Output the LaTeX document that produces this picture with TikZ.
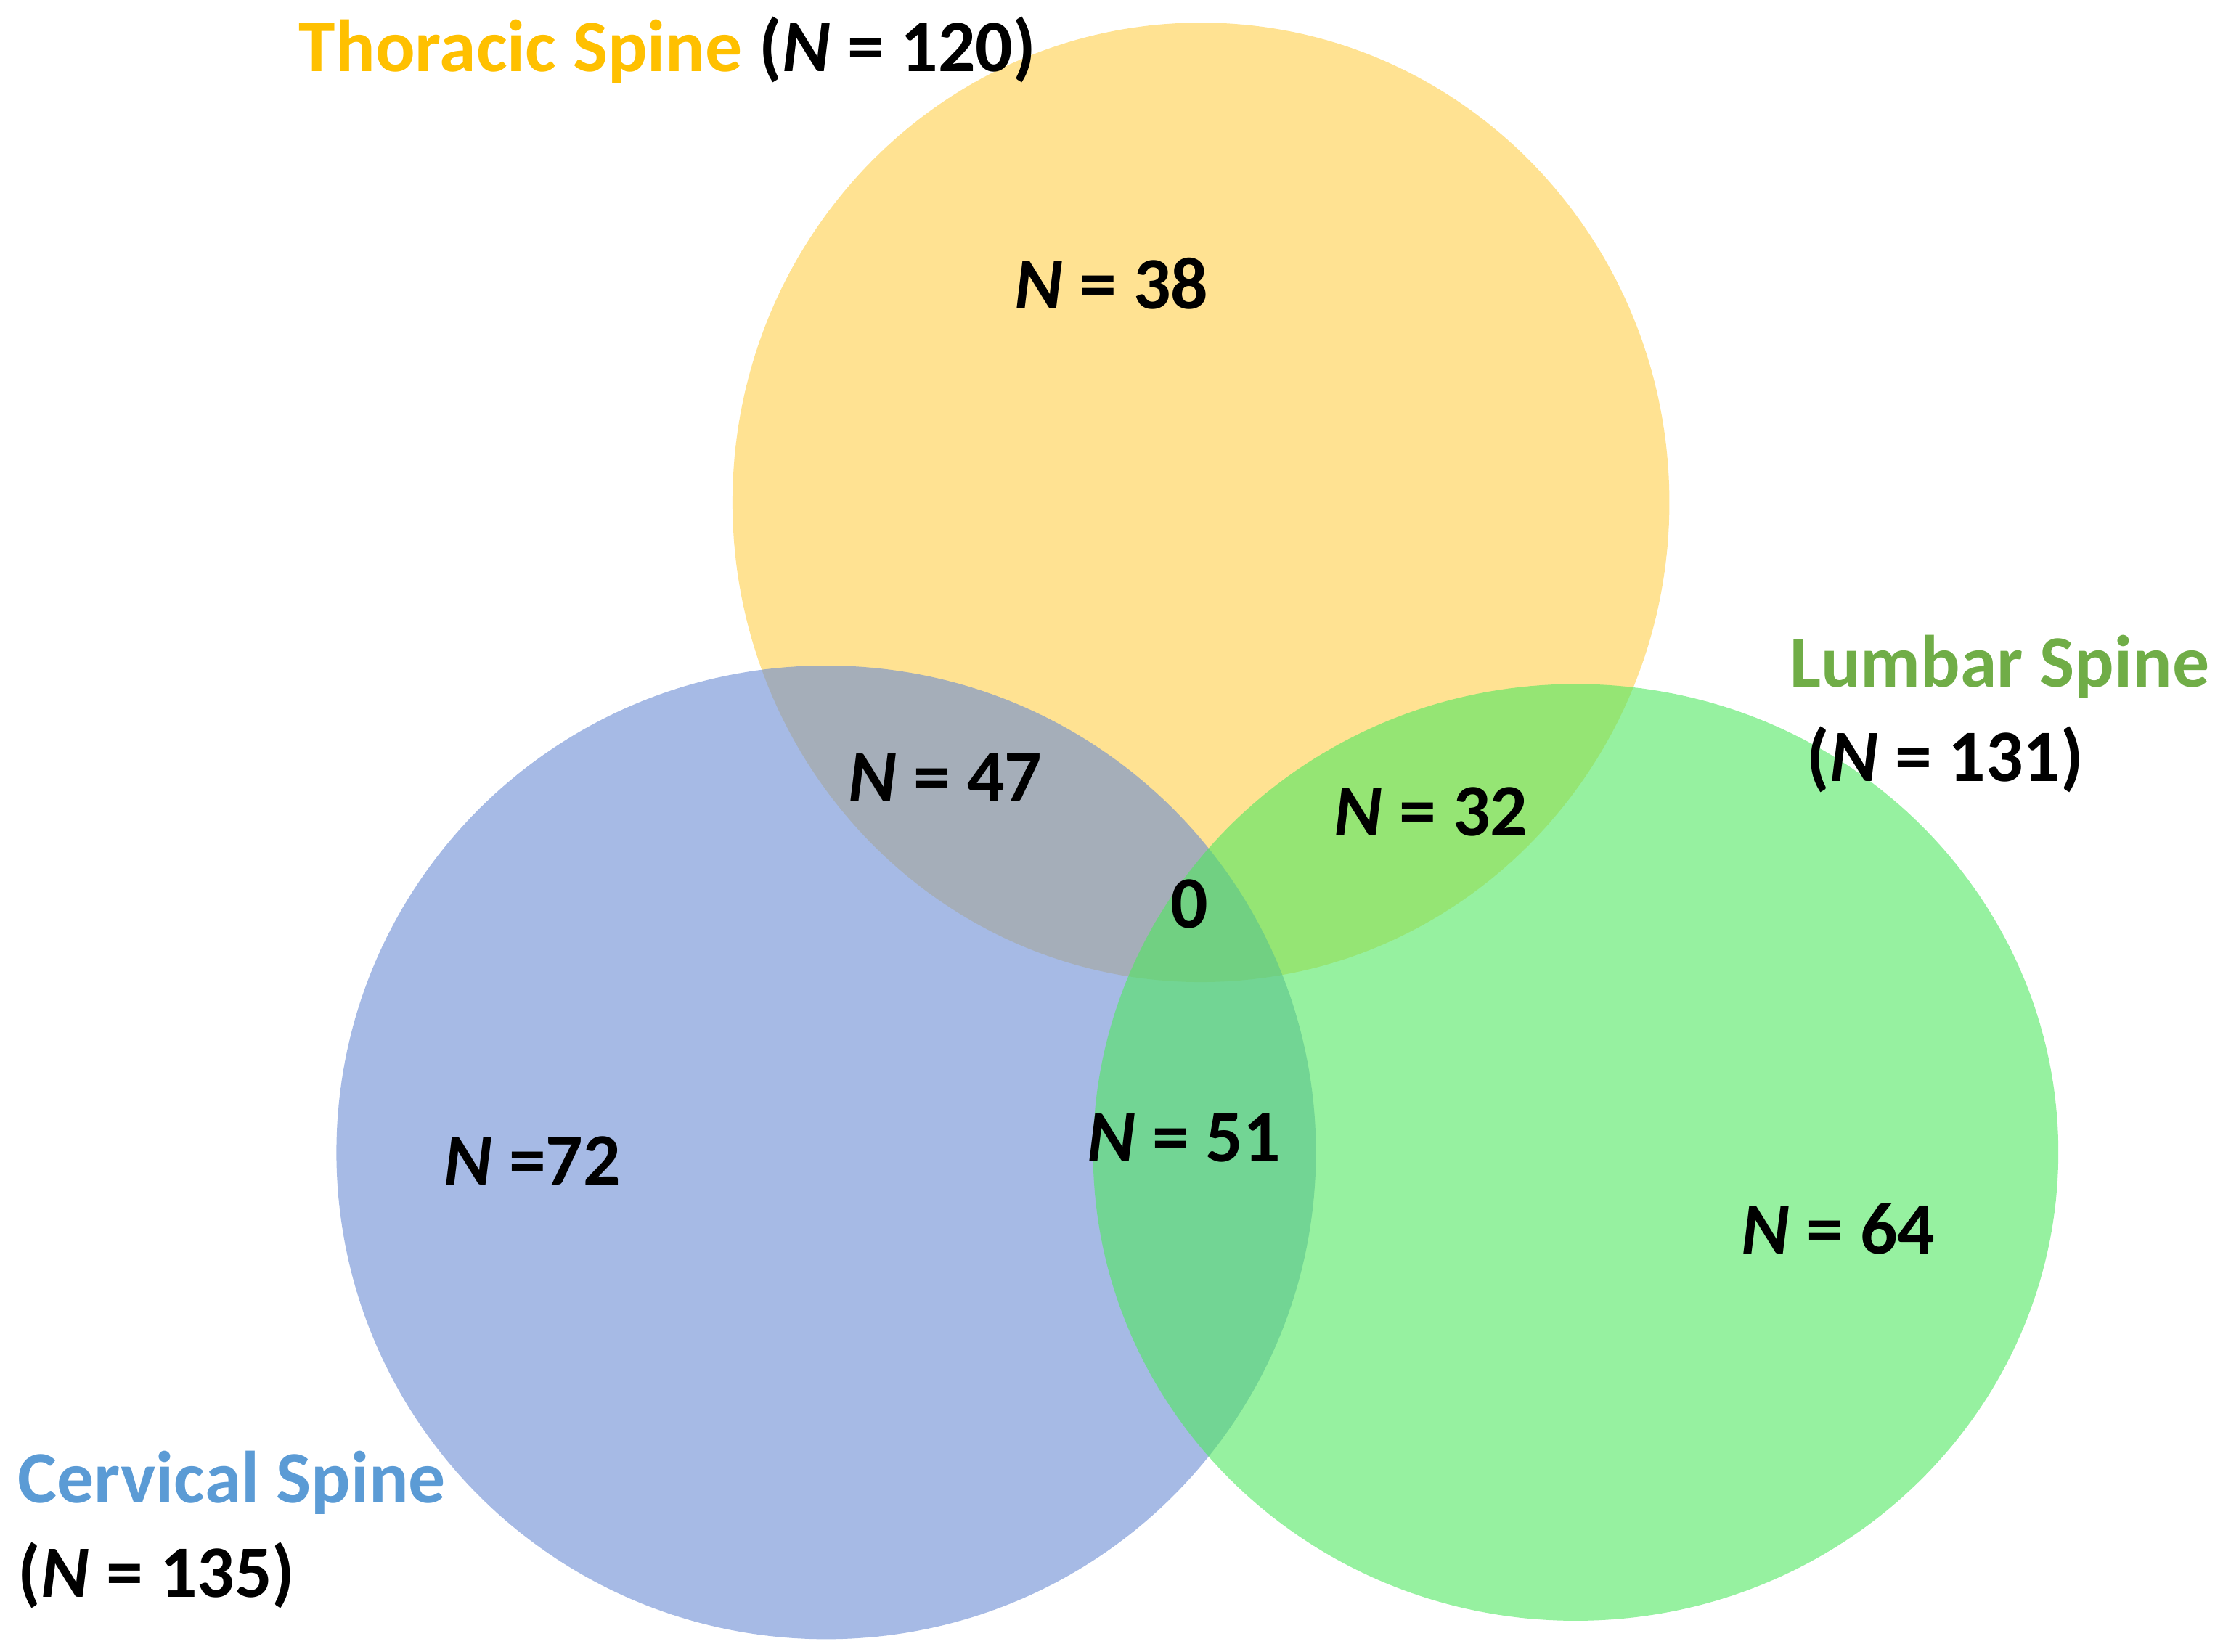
\documentclass[tikz,border=0pt]{standalone}
\usepackage{fontspec}
\setmainfont{Carlito}
\begin{document}
\begin{tikzpicture}[x=0.01cm,y=-0.01cm,
  lab/.style={font=\fontsize{14.8}{17}\selectfont\bfseries, inner sep=0pt},
  circ/.style={draw=none, fill opacity=0.6}]
\useasboundingbox (0,0) rectangle (1566,1164);
\definecolor{thor}{HTML}{FFCF4A}
\definecolor{cerv}{HTML}{6A8CD3}
\definecolor{lumb}{HTML}{50E860}
\definecolor{thorL}{HTML}{FFC000}
\definecolor{lumbL}{HTML}{70AD47}
\definecolor{cervL}{HTML}{5B9BD5}
\fill[circ, fill=thor] (846,354) coordinate (ct) circle [x radius=330, y radius=-338];
\fill[circ, fill=cerv] (582,812) coordinate (cc) circle [x radius=345, y radius=-343];
\fill[circ, fill=lumb] (1110,812) coordinate (cl) circle [x radius=340, y radius=-330];
\node[lab, anchor=west] (t) at (210,35) {\textcolor{thorL}{Thoracic Spine} (\textit{N} = 120)};
\node[lab, anchor=west, text=lumbL] (l1) at (1260,470) {Lumbar Spine};
\node[lab, anchor=west] (l2) at (1272,535) {(\textit{N} = 131)};
\node[lab, anchor=west, text=cervL] (c1) at (12,1045) {Cervical Spine};
\node[lab, anchor=west] (c2) at (12,1110) {(\textit{N} = 135)};
\node[lab] (n38) at (783,200) {\textit{N} = 38};
\node[lab] (n47) at (666,548) {\textit{N} = 47};
\node[lab] (n32) at (1008,572) {\textit{N} = 32};
\node[lab] (n0) at (838,637) {0};
\node[lab] (n72) at (375,818) {\textit{N} =72};
\node[lab] (n51) at (834,802) {\textit{N} = 51};
\node[lab] (n64) at (1295,866) {\textit{N} = 64};
\end{tikzpicture}
\end{document}
